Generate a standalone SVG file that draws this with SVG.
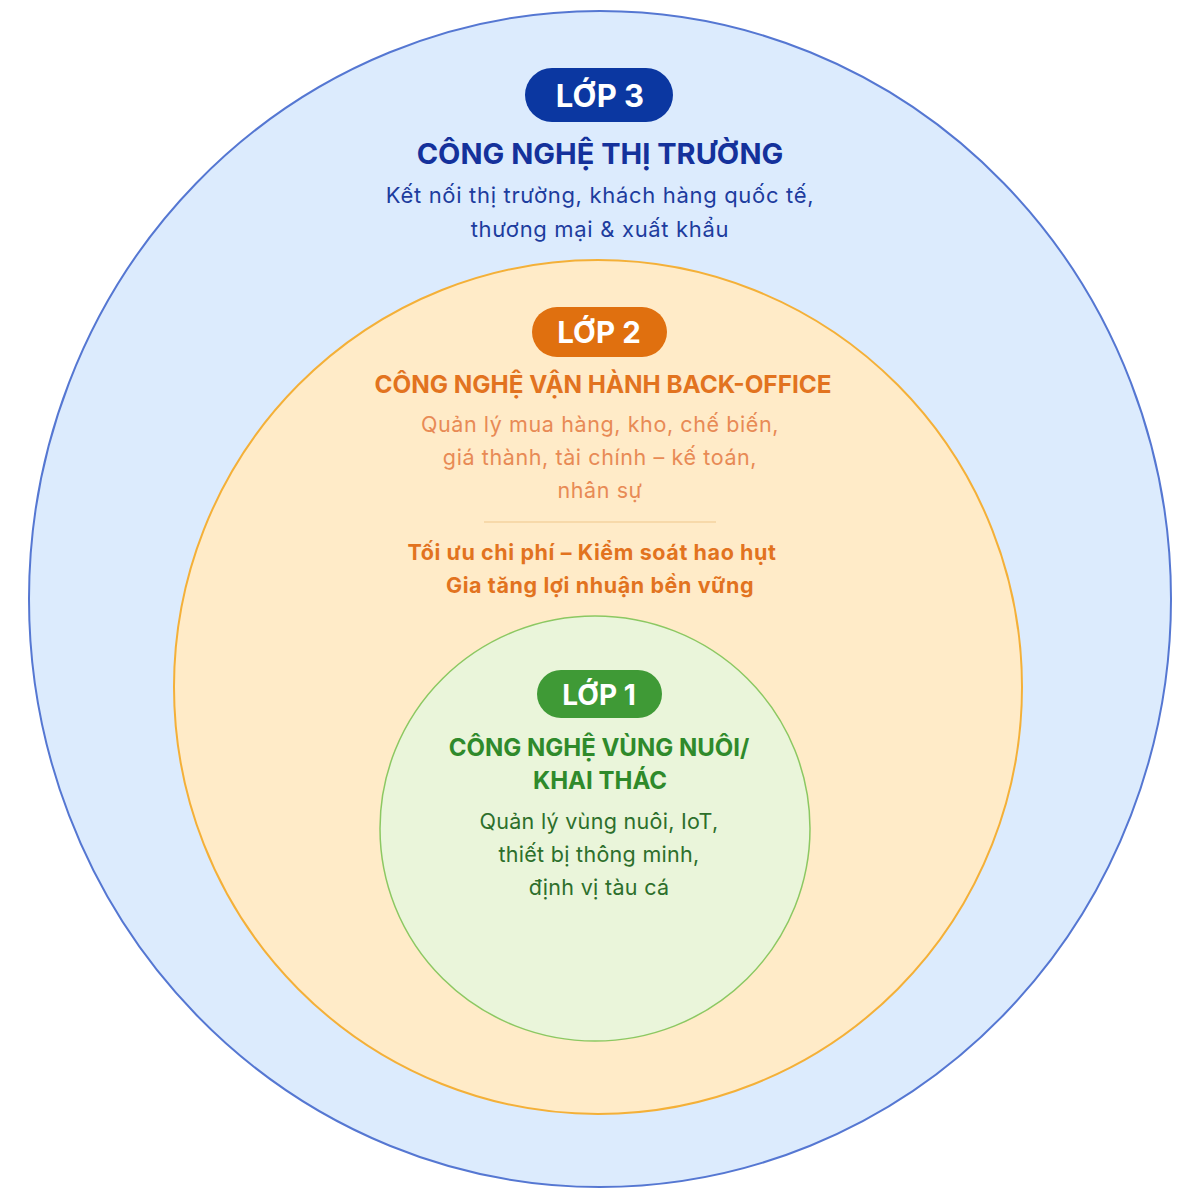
<svg xmlns="http://www.w3.org/2000/svg" width="1200" height="1200" viewBox="0 0 1200 1200">
<style>
text{font-family:Inter,"Noto Sans","Liberation Sans",sans-serif;text-anchor:middle}
.badge{fill:#fff;font-weight:700}
.t3{fill:#14319b;font-weight:700;font-size:29px}
.d3{fill:#1d3c9e;font-size:22px;letter-spacing:0.68px}
.t2{fill:#e2731f;font-weight:700;font-size:24.3px}
.d2{fill:#e88a55;font-size:21.5px;letter-spacing:0.6px}
.b2{fill:#e2731f;font-weight:700;font-size:21.5px;letter-spacing:0.6px}
.t1{fill:#2f8a2b;font-weight:700;font-size:24px}
.d1{fill:#2d6f2b;font-size:21.5px;letter-spacing:0.3px}
</style>
<rect width="1200" height="1200" fill="#ffffff"/>
<g id="layer3">
<ellipse cx="600" cy="599" rx="571" ry="588" fill="#dcebfd" stroke="#5577d2" stroke-width="2"/>
<rect x="525" y="68" width="148" height="54" rx="27" fill="#0b37a1"/>
<text class="badge" x="600" y="107" font-size="31">LỚP 3</text>
<text class="t3" x="600" y="164">CÔNG NGHỆ THỊ TRƯỜNG</text>
<text class="d3" x="600" y="203">Kết nối thị trường, khách hàng quốc tế,</text>
<text class="d3" x="600" y="237">thương mại &amp; xuất khẩu</text>
</g>
<g id="layer2">
<ellipse cx="598" cy="687" rx="424" ry="427" fill="#ffebc8" stroke="#f4b038" stroke-width="2"/>
<rect x="532" y="307" width="135" height="50" rx="25" fill="#e0700f"/>
<text class="badge" x="599" y="343" font-size="29.5">LỚP 2</text>
<text class="t2" x="603" y="393">CÔNG NGHỆ VẬN HÀNH BACK-OFFICE</text>
<text class="d2" x="600" y="432">Quản lý mua hàng, kho, chế biến,</text>
<text class="d2" x="600" y="465">giá thành, tài chính – kế toán,</text>
<text class="d2" x="600" y="498">nhân sự</text>
<line x1="484" y1="522" x2="716" y2="522" stroke="#f5d3a0" stroke-width="1.5"/>
<text class="b2" x="592" y="560">Tối ưu chi phí – Kiểm soát hao hụt</text>
<text class="b2" x="600" y="593">Gia tăng lợi nhuận bền vững</text>
</g>
<g id="layer1">
<ellipse cx="595" cy="828.5" rx="215" ry="212.5" fill="#eaf5da" stroke="#8cc862" stroke-width="1.5"/>
<rect x="537" y="670" width="125" height="48" rx="24" fill="#3f9a36"/>
<text class="badge" x="599" y="705" font-size="28">LỚP 1</text>
<text class="t1" x="599" y="756">CÔNG NGHỆ VÙNG NUÔI/</text>
<text class="t1" x="600" y="789">KHAI THÁC</text>
<text class="d1" x="599" y="829">Quản lý vùng nuôi, IoT,</text>
<text class="d1" x="599" y="862">thiết bị thông minh,</text>
<text class="d1" x="599" y="895">định vị tàu cá</text>
</g>
<g id="connectors"/>
</svg>
